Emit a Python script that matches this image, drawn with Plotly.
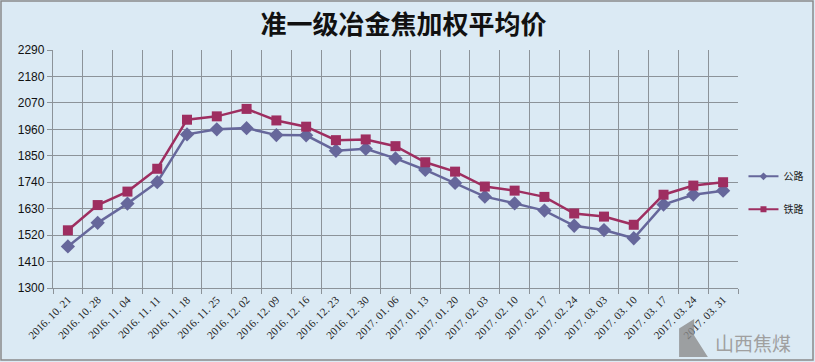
import plotly.graph_objects as go

dates = ["2016. 10. 21", "2016. 10. 28", "2016. 11. 04", "2016. 11. 11", "2016. 11. 18", "2016. 11. 25",
         "2016. 12. 02", "2016. 12. 09", "2016. 12. 16", "2016. 12. 23", "2016. 12. 30",
         "2017. 01. 06", "2017. 01. 13", "2017. 01. 20", "2017. 02. 03", "2017. 02. 10", "2017. 02. 17",
         "2017. 02. 24", "2017. 03. 03", "2017. 03. 10", "2017. 03. 17", "2017. 03. 24", "2017. 03. 31"]
road = [1473, 1571, 1651, 1740, 1939, 1960, 1965, 1936, 1935, 1871, 1879,
        1839, 1791, 1737, 1680, 1652, 1622, 1559, 1541, 1507, 1647, 1688, 1705]
rail = [1540, 1645, 1701, 1796, 2000, 2014, 2045, 1997, 1971, 1915, 1918,
        1890, 1823, 1784, 1722, 1705, 1679, 1610, 1597, 1563, 1688, 1726, 1740]
y_ticks = [1300, 1410, 1520, 1630, 1740, 1850, 1960, 2070, 2180, 2290]

BG = "#DBEAF4"
BLUE = "#66679B"
RED = "#9E2E60"
fig = go.Figure()
fig.add_trace(go.Scatter(x=dates, y=road, name="公路", mode="lines+markers", showlegend=False,
                         line=dict(color=BLUE, width=2.5),
                         marker=dict(symbol="diamond", size=11, color=BLUE)))
fig.add_trace(go.Scatter(x=dates, y=rail, name="铁路", mode="lines+markers", showlegend=False,
                         line=dict(color=RED, width=2.5),
                         marker=dict(symbol="square", size=10, color=RED)))
# legend entries with small markers
fig.add_trace(go.Scatter(x=[None], y=[None], name="公路", mode="lines+markers", legendgroup="a",
                         line=dict(color=BLUE, width=2), marker=dict(symbol="diamond", size=6, color=BLUE)))
fig.add_trace(go.Scatter(x=[None], y=[None], name="铁路", mode="lines+markers", legendgroup="b",
                         line=dict(color=RED, width=2), marker=dict(symbol="square", size=6, color=RED)))

fig.update_layout(
    width=815, height=362,
    margin=dict(l=53, r=77, t=50, b=74, autoexpand=False),
    paper_bgcolor=BG, plot_bgcolor=BG,
    font=dict(family="Noto Sans CJK SC, Liberation Sans", color="#111111"),
    title=dict(text="<b>准一级冶金焦加权平均价</b>", x=0.495, xanchor="center",
               y=0.93, yanchor="middle",
               font=dict(size=26, family="Noto Sans CJK SC", color="#111111")),
    showlegend=True,
    legend=dict(x=1.008, y=0.4, xanchor="left", yanchor="middle",
                bgcolor="rgba(0,0,0,0)", font=dict(size=10, color="#222222"),
                itemwidth=30, tracegroupgap=14),
    xaxis=dict(type="category", tickson="boundaries", showgrid=True, automargin=False,
               gridcolor="#8C9399", gridwidth=1.3, ticks="outside", ticklen=5,
               tickcolor="#8C9399", tickangle=-45,
               tickfont=dict(size=11, family="Liberation Serif", color="#222222"),
               showline=True, linecolor="#8C9399", linewidth=1.3,
               range=[-0.5, len(dates) - 0.5]),
    yaxis=dict(range=[1300, 2290], tickvals=y_ticks, showgrid=True, automargin=False,
               gridcolor="#8C9399", gridwidth=1.3, ticks="outside", ticklen=5,
               tickcolor="#8C9399", showline=True, linecolor="#8C9399", linewidth=1.3,
               tickfont=dict(size=12, family="Liberation Sans Narrow, Liberation Sans", color="#111111"),
               zeroline=False),
)

# outer chart border
fig.add_shape(type="rect", xref="paper", yref="paper",
              x0=-52 / 685, x1=1 + 75 / 685, y0=-72 / 238, y1=1 + 49 / 238,
              line=dict(color="#8A8A8A", width=1.5), fillcolor="rgba(0,0,0,0)", layer="below")
# watermark logo
fig.add_shape(type="path", xref="paper", yref="paper",
              path="M 0.914 -0.29 L 0.914 -0.17 L 0.936 -0.13 L 0.936 -0.20 L 0.956 -0.29 Z",
              line=dict(width=0), fillcolor="rgba(140,140,140,0.8)")
fig.add_annotation(text="山西焦煤", xref="paper", yref="paper", x=0.963, y=-0.231,
                   xanchor="left", yanchor="middle", showarrow=False,
                   font=dict(size=19, color="#A0A0A0", family="Noto Sans CJK SC"))

fig.write_html("out.html", config={"displayModeBar": False},
               post_script="document.body.style.margin='0';")
